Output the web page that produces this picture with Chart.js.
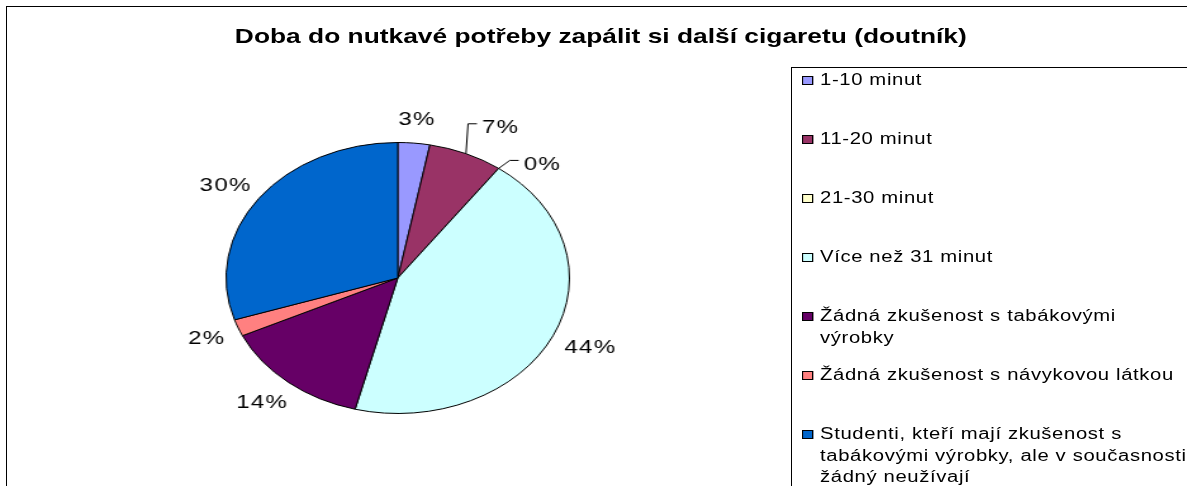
<!DOCTYPE html>
<html>
<head>
<meta charset="utf-8">
<script src="https://cdn.jsdelivr.net/npm/chart.js@4.4.0/dist/chart.umd.min.js"></script>
<style>
  html, body { margin: 0; background: #fff; overflow: hidden; }
  body { width: 1187px; height: 486px; position: relative;
         font-family: "Liberation Sans", Arial, sans-serif; color: #000; }
  #frame { position: absolute; left: 6px; top: 6px; width: 1400px; height: 700px; border: 1px solid #000; }
  #legendBox { position: absolute; left: 791px; top: 67px; width: 600px; height: 600px; border: 1px solid #000; }
  /* the whole picture is stretched sideways, like the original */
  #wide { position: absolute; left: 0; top: 0; width: 937px; height: 486px; transform: scaleX(1.2668); transform-origin: 0 0; }
  #chart { position: absolute; left: 0; top: 0; }
  #title { position: absolute; left: 0; width: 948.6px; top: 24.9px; text-align: center; font-weight: bold;
           font-size: 20.8px; line-height: 21px; white-space: nowrap; }
  #legend { position: absolute; left: 633px; top: 69.2px; font-size: 16px; line-height: 21.5px; letter-spacing: 0.5px; }
  .item { height: 59px; display: flex; align-items: flex-start; white-space: nowrap; }
  .box { width: 9px; height: 9px; box-sizing: border-box; border: 1px solid #000; margin-top: 6.5px; margin-right: 5.3px; flex: none; }
</style>
</head>
<body>
<div id="frame"></div>
<div id="legendBox"></div>
<div id="wide">
  <canvas id="chart" width="937" height="486"></canvas>
  <div id="title"></div>
  <div id="legend"></div>
</div>
<script>
const chartTitle = 'Doba do nutkavé potřeby zapálit si další cigaretu (doutník)';
const categories = [
    '1-10 minut',
    '11-20 minut',
    '21-30 minut',
    'Více než 31 minut',
    ['Žádná zkušenost s tabákovými', 'výrobky'],
    'Žádná zkušenost s návykovou látkou',
    ['Studenti, kteří mají zkušenost s', 'tabákovými výrobky, ale v současnosti', 'žádný neužívají']
];
const shares = [3, 7, 0, 44, 14, 2, 30];
const sliceColors = ['#9999FF', '#993366', '#FFFFCC', '#CCFFFF', '#660066', '#FF8080', '#0066CC'];

// percentage labels outside the pie, some moved out with a leader line
const pctLabels = {
    id: 'pctLabels',
    afterDatasetsDraw(chart, args, opts) {
        const ctx = chart.ctx;
        const meta = chart.getDatasetMeta(0);
        ctx.save();
        ctx.font = opts.size + 'px "Liberation Sans", Arial, sans-serif';
        if ('letterSpacing' in ctx) ctx.letterSpacing = opts.spacing + 'px';
        ctx.fillStyle = '#000';
        ctx.strokeStyle = '#000';
        ctx.lineWidth = 1;
        ctx.textAlign = 'left';
        ctx.textBaseline = 'alphabetic';
        meta.data.forEach(function (arc, i) {
            const p = arc.getProps(['x', 'y', 'startAngle', 'endAngle', 'outerRadius'], true);
            const a = (p.startAngle + p.endAngle) / 2;
            const ux = Math.cos(a), uy = Math.sin(a);
            const text = shares[i] + '%';
            const w = ctx.measureText(text).width;
            const cap = opts.size * 0.716;
            let cx = p.x + (p.outerRadius + opts.gapX + w / 2) * ux;
            let cy = p.y + (p.outerRadius + opts.gapY + cap / 2) * uy;
            const nudge = opts.nudge[i];
            if (nudge) {
                cx += nudge[0];
                cy += nudge[1];
                const left = cx - w / 2;
                ctx.beginPath();
                ctx.moveTo(p.x + p.outerRadius * ux, p.y + p.outerRadius * uy);
                ctx.lineTo(left - 11, cy - 2.5);
                ctx.lineTo(left - 4, cy - 2.5);
                ctx.stroke();
            }
            ctx.fillText(text, cx - w / 2, cy + cap / 2);
        });
        ctx.restore();
    }
};

document.getElementById('title').textContent = chartTitle;

const legendEl = document.getElementById('legend');
categories.forEach(function (label, i) {
    const item = document.createElement('div');
    item.className = 'item';
    const box = document.createElement('div');
    box.className = 'box';
    box.style.background = sliceColors[i];
    const txt = document.createElement('div');
    const lines = Array.isArray(label) ? label : [label];
    lines.forEach(function (line, j) {
        if (j > 0) txt.appendChild(document.createElement('br'));
        txt.appendChild(document.createTextNode(line));
    });
    item.appendChild(box);
    item.appendChild(txt);
    legendEl.appendChild(item);
});

new Chart(document.getElementById('chart'), {
    type: 'pie',
    data: {
        labels: categories,
        datasets: [{
            data: shares,
            backgroundColor: sliceColors,
            borderColor: '#000',
            borderWidth: 1,
            hoverOffset: 0
        }]
    },
    options: {
        responsive: false,
        animation: false,
        events: [],
        layout: { padding: { left: 178, top: 142, right: 487, bottom: 72 } },
        plugins: {
            legend: { display: false },
            tooltip: { enabled: false },
            pctLabels: { size: 19, spacing: 1, gapX: 12, gapY: 18, nudge: { 1: [16.8, -4.6], 2: [18.8, 14.6] } }
        }
    },
    plugins: [pctLabels]
});
</script>
</body>
</html>
